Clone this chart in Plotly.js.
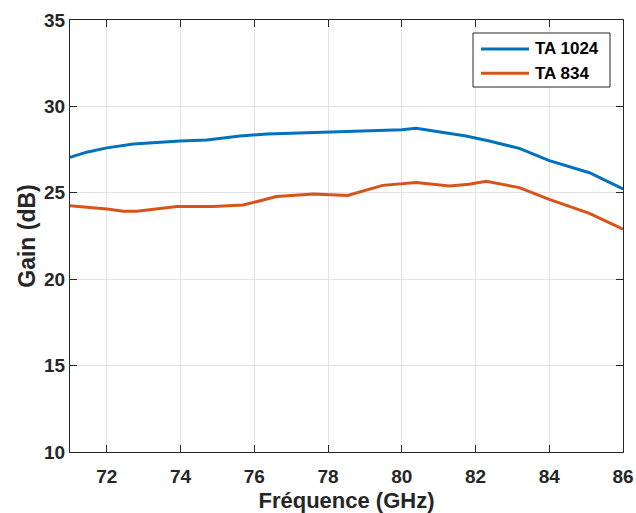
<!DOCTYPE html>
<html>
<head>
<meta charset="utf-8">
<script src="https://cdn.plot.ly/plotly-3.0.1.min.js"></script>
<style>html,body{margin:0;padding:0;background:#fff;}#chart{width:636px;height:513px;}</style>
</head>
<body>
<div id="chart"></div>
<script>
// TA 1024 series
const freqTA1024 = [71.0, 71.45, 72.0, 72.72, 73.98, 74.71, 75.61, 76.34, 77.0, 77.7, 78.5, 79.4, 80.0, 80.39, 81.0, 81.74, 82.4, 83.19, 84.0, 85.09, 86.0];
const gainTA1024 = [27.05, 27.35, 27.6, 27.82, 28.0, 28.06, 28.29, 28.40, 28.45, 28.49, 28.55, 28.62, 28.65, 28.73, 28.55, 28.29, 27.98, 27.57, 26.86, 26.16, 25.22];
// TA 834 series
const freqTA834 = [71.0, 71.45, 72.0, 72.45, 72.81, 73.9, 74.89, 75.7, 76.6, 77.6, 78.53, 79.48, 80.39, 81.29, 81.83, 82.29, 83.19, 84.0, 85.09, 86.0];
const gainTA834 = [24.25, 24.18, 24.06, 23.93, 23.93, 24.2, 24.2, 24.29, 24.78, 24.93, 24.84, 25.43, 25.6, 25.39, 25.49, 25.67, 25.30, 24.62, 23.81, 22.90];
const seriesNames = ["TA 1024", "TA 834"];
const seriesColors = ["#0072BD", "#D95319"];
const xTicks = [72, 74, 76, 78, 80, 82, 84, 86];
const yTicks = [10, 15, 20, 25, 30, 35];

const fontFam = "Liberation Sans, Arial, sans-serif";
const axColor = "#262626";

const traces = [
  {x: freqTA1024, y: gainTA1024, name: seriesNames[0], mode: "lines",
   line: {color: seriesColors[0], width: 3}},
  {x: freqTA834, y: gainTA834, name: seriesNames[1], mode: "lines",
   line: {color: seriesColors[1], width: 3}}
];

const axisCommon = {
  showline: true, mirror: "ticks", linecolor: axColor, linewidth: 1,
  ticks: "inside", ticklen: 7, tickwidth: 1, tickcolor: axColor,
  showgrid: true, gridcolor: "#e3e3e3", gridwidth: 1, zeroline: false,
  tickfont: {family: fontFam, size: 19, color: axColor, weight: "bold"}
};

// custom legend (box, sample lines, labels) in paper coordinates
const legBox = {x0: 0.7288, x1: 0.9765, y0: 0.8449, y1: 0.9699};
const legLineX = [0.7432, 0.8300];
const legRowY = [0.9329, 0.8766];
const legTextX = 0.8373;

const shapes = [{
  type: "rect", xref: "paper", yref: "paper", layer: "above",
  x0: legBox.x0, x1: legBox.x1, y0: legBox.y0, y1: legBox.y1,
  fillcolor: "#fff", line: {color: axColor, width: 1}
}];
const annotations = [];
seriesNames.forEach((nm, i) => {
  shapes.push({type: "line", xref: "paper", yref: "paper", layer: "above",
    x0: legLineX[0], x1: legLineX[1], y0: legRowY[i], y1: legRowY[i],
    line: {color: seriesColors[i], width: 3}});
  annotations.push({xref: "paper", yref: "paper", x: legTextX, y: legRowY[i],
    xanchor: "left", yanchor: "middle", showarrow: false, text: nm,
    font: {family: fontFam, size: 17, color: "#000", weight: "bold"}});
});

const layout = {
  width: 636, height: 513,
  margin: {l: 70, r: 13, t: 20, b: 61},
  paper_bgcolor: "#fff", plot_bgcolor: "#fff",
  showlegend: false,
  shapes: shapes,
  annotations: annotations,
  xaxis: Object.assign({}, axisCommon, {
    range: [71, 86], tickvals: xTicks, ticktext: xTicks.map(String),
    ticklabelstandoff: 7,
    title: {text: "Fréquence (GHz)", font: {family: fontFam, size: 22, color: axColor, weight: "bold"}, standoff: 15}
  }),
  yaxis: Object.assign({}, axisCommon, {
    range: [10, 35], tickvals: yTicks, ticktext: yTicks.map(String),
    title: {text: "Gain (dB)", font: {family: fontFam, size: 23, color: axColor, weight: "bold"}, standoff: 2}
  })
};

Plotly.newPlot("chart", traces, layout, {displayModeBar: false, staticPlot: true});
</script>
</body>
</html>
